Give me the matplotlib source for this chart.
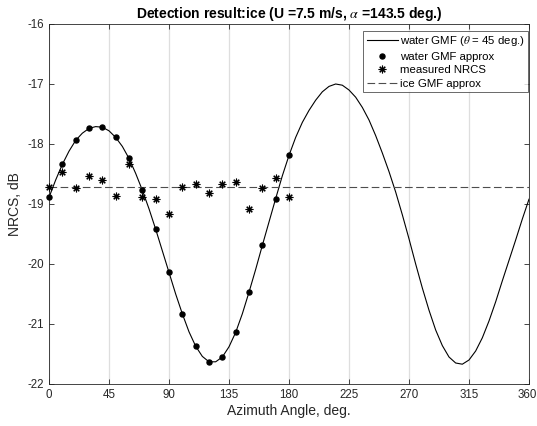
import matplotlib
matplotlib.use('Agg')
import matplotlib.pyplot as plt
from matplotlib.transforms import ScaledTranslation

plt.rcParams['font.family'] = ['Liberation Sans', 'DejaVu Sans']
plt.rcParams['mathtext.fontset'] = 'stix'
plt.rcParams['lines.scale_dashes'] = False
plt.rcParams['axes.unicode_minus'] = False

# water GMF curve (theta = 45 deg), every 5 deg from 0 to 360
gmf_angle = list(range(0, 361, 5))
gmf_nrcs = [-18.89, -18.60, -18.34, -18.12, -17.94, -17.82, -17.74, -17.71, -17.72, -17.78,
            -17.89, -18.04, -18.24, -18.49, -18.77, -19.08, -19.42, -19.78, -20.14, -20.50,
            -20.83, -21.13, -21.37, -21.54, -21.63, -21.63, -21.55, -21.38, -21.14, -20.83,
            -20.47, -20.09, -19.69, -19.30, -18.91, -18.53, -18.19, -17.89, -17.64, -17.44,
            -17.27, -17.13, -17.04, -17.00, -17.02, -17.10, -17.22, -17.39, -17.60, -17.86,
            -18.15, -18.46, -18.80, -19.18, -19.58, -20.00, -20.40, -20.77, -21.10, -21.36,
            -21.55, -21.65, -21.67, -21.60, -21.45, -21.23, -20.95, -20.63, -20.28, -19.94,
            -19.60, -19.25, -18.92]

# sampled azimuths (every 10 deg, 0..180)
azimuth = list(range(0, 181, 10))
approx_nrcs = [-18.89, -18.34, -17.94, -17.74, -17.72, -17.89, -18.24, -18.77, -19.42, -20.14,
               -20.83, -21.37, -21.63, -21.55, -21.14, -20.47, -19.69, -18.91, -18.19]
measured_nrcs = [-18.72, -18.47, -18.74, -18.54, -18.60, -18.87, -18.33, -18.88, -18.91, -19.16,
                 -18.71, -18.67, -18.81, -18.67, -18.63, -19.08, -18.73, -18.56, -18.89]

# ice GMF approx level
ice_level = -18.71

xticks = [0, 45, 90, 135, 180, 225, 270, 315, 360]
yticks = [-22, -21, -20, -19, -18, -17, -16]

dark = '#262626'

fig = plt.figure(figsize=(5.37, 4.26), dpi=100)
ax = fig.add_axes([49 / 537, 42 / 426, 480 / 537, 360 / 426])

ax.plot(gmf_angle, gmf_nrcs, color='black', lw=0.8, label=r'water GMF ($\theta$ = 45 deg.)')
ax.plot(azimuth, approx_nrcs, ls='none', marker='o', ms=3.6, color='black',
        label='water GMF approx', clip_on=False, zorder=4)
ax.plot(azimuth, measured_nrcs, ls='none', marker=(8, 2, 0), ms=5.5, mew=0.8,
        color='black', label='measured NRCS', clip_on=False, zorder=4)
ax.axhline(ice_level, color='0.3', lw=0.8, dashes=(5.5, 2.5), label='ice GMF approx')

ax.set_xlim(0, 360)
ax.set_ylim(-22, -16)
ax.set_xticks(xticks)
ax.set_yticks(yticks)
ax.xaxis.grid(True, color='#dedede', lw=0.9)
ax.set_axisbelow(True)

ax.tick_params(direction='in', length=3.5, width=0.6, colors=dark, labelsize=8.3,
               top=True, right=True)
for sp in ax.spines.values():
    sp.set_color(dark)
    sp.set_linewidth(0.6)

# keep the last x label inside the figure
last = ax.get_xticklabels()[-1]
last.set_transform(last.get_transform() + ScaledTranslation(-2 / 100, 0, fig.dpi_scale_trans))

ax.set_xlabel('Azimuth Angle, deg.', fontsize=10, color=dark, labelpad=2)
ax.set_ylabel('NRCS, dB', fontsize=10, color=dark, labelpad=4)
ax.set_title(r'Detection result:ice (U =7.5 m/s, $\alpha$ =143.5 deg.)',
             fontsize=10, fontweight='bold', color='black', pad=4)

leg = ax.legend(loc='upper right', bbox_to_anchor=(0.998, 0.981), borderaxespad=0,
                fontsize=8.2, handlelength=2.7, frameon=True, fancybox=False,
                labelspacing=0.3, borderpad=0.3, handletextpad=0.2)
leg.get_frame().set_edgecolor(dark)
leg.get_frame().set_linewidth(0.6)

fig.savefig('out.png', dpi=100)
